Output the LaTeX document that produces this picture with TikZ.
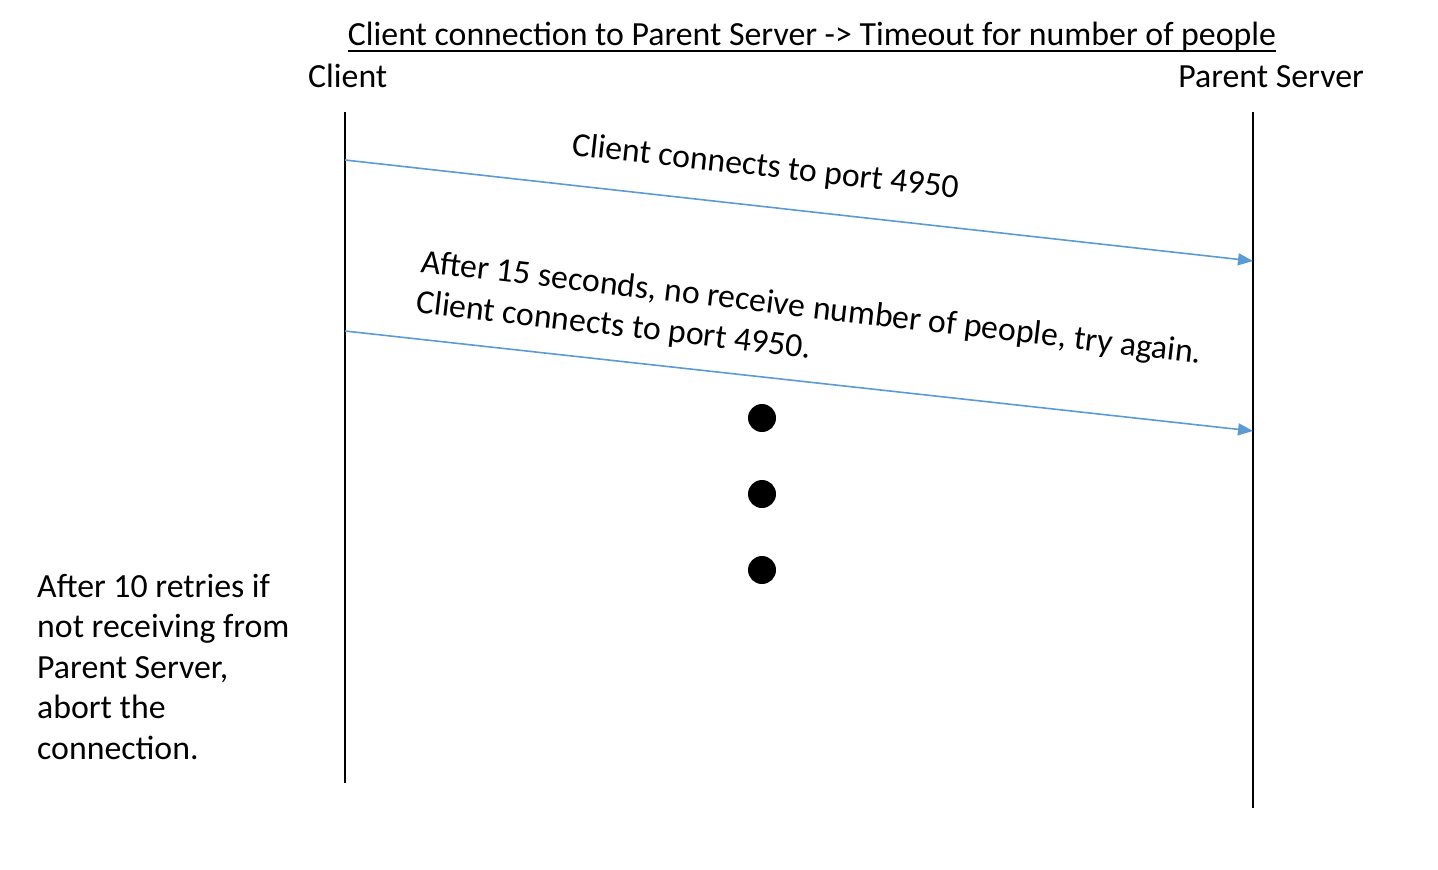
\documentclass[tikz,border=0pt]{standalone}
\usepackage{fontspec}
\setmainfont{Carlito}
\usetikzlibrary{arrows.meta}
\definecolor{msgblue}{HTML}{5B9BD5}
\begin{document}
\begin{tikzpicture}[x=1pt,y=-1pt,
  txt/.style={inner sep=0pt,font=\fontsize{33.8}{40.5}\selectfont},
  lifeline/.style={line width=2pt,black},
  msg/.style={line width=1.6pt,msgblue,-{Triangle[length=15pt,width=12pt]}},
  dot/.style={circle,fill=black,minimum size=28pt,inner sep=0pt},
  msglabel/.style={txt,anchor=base west}]
\useasboundingbox (0,0) rectangle (1438,870);
% title
\node[txt,anchor=base] (title) at (812,45) {Client connection to Parent Server -> Timeout for number of people};
\draw[line width=2pt] ([yshift=-6pt]title.base west) -- ([yshift=-6pt]title.base east);
% headers
\node[txt,anchor=base west] (clientlbl) at (308,87) {Client};
\node[txt,anchor=base east] (serverlbl) at (1364,87) {Parent Server};
% lifelines
\coordinate (c1) at (345,112);
\coordinate (c2) at (345,783);
\coordinate (s1) at (1253,112);
\coordinate (s2) at (1253,808);
\draw[lifeline] (c1) -- (c2);
\draw[lifeline] (s1) -- (s2);
% messages
\coordinate (m1s) at (345,160);
\coordinate (m1e) at (1253,261);
\coordinate (m2s) at (345,331);
\coordinate (m2e) at (1253,431);
\draw[msg] (m1s) -- (m1e);
\draw[msg] (m2s) -- (m2e);
\node[msglabel,rotate=-6.35] (lab1) at (571,155) {Client connects to port 4950};
\node[msglabel,rotate=-6.7] (lab2) at (420,272) {\begin{tabular}[t]{@{}l@{}}After 15 seconds, no receive number of people, try again.\\Client connects to port 4950.\end{tabular}};
% dots
\node[dot] (d1) at (762,418) {};
\node[dot] (d2) at (762,494) {};
\node[dot] (d3) at (762,570) {};
% note
\node[txt,anchor=base west] (note) at (37,597) {\begin{tabular}[t]{@{}l@{}}After 10 retries if\\not receiving from\\Parent Server,\\abort the\\connection.\end{tabular}};
\end{tikzpicture}
\end{document}
